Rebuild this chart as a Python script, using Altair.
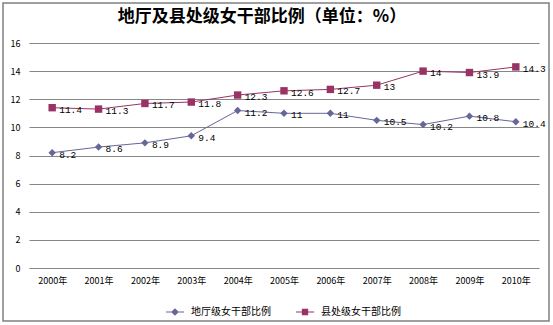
import altair as alt
import pandas as pd

years = ["2000年", "2001年", "2002年", "2003年", "2004年", "2005年",
         "2006年", "2007年", "2008年", "2009年", "2010年"]
series_a_name = "地厅级女干部比例"
series_b_name = "县处级女干部比例"
series_a = [8.2, 8.6, 8.9, 9.4, 11.2, 11, 11, 10.5, 10.2, 10.8, 10.4]
series_b = [11.4, 11.3, 11.7, 11.8, 12.3, 12.6, 12.7, 13, 14, 13.9, 14.3]
title_text = "地厅及县处级女干部比例（单位：%）"

rows = []
for y, a, b in zip(years, series_a, series_b):
    rows.append({"year": y, "series": series_a_name, "value": a, "label": f"{a:g}"})
    rows.append({"year": y, "series": series_b_name, "value": b, "label": f"{b:g}"})
df = pd.DataFrame(rows)

FONT = "Noto Sans CJK SC"
colors = ["#666699", "#993366"]
domain = [series_a_name, series_b_name]

x_enc = alt.X("year:N", sort=years,
              scale=alt.Scale(type="point", padding=0.5),
              axis=alt.Axis(title=None, labelAngle=0, ticks=False, domain=False,
                            labelFontSize=9, labelFont=FONT, labelColor="#000000",
                            labelPadding=8, grid=False))
y_enc = alt.Y("value:Q",
              scale=alt.Scale(domain=[0, 16], nice=False),
              axis=alt.Axis(title=None, values=list(range(0, 17, 2)), ticks=False,
                            domain=False, grid=True, gridColor="#868686",
                            gridWidth=1, labelFontSize=9, labelFont=FONT,
                            labelColor="#000000", labelPadding=9))
color_enc = alt.Color("series:N", sort=domain,
                      scale=alt.Scale(domain=domain, range=colors),
                      legend=None)
shape_enc = alt.Shape("series:N", sort=domain,
                      scale=alt.Scale(domain=domain, range=["diamond", "square"]),
                      legend=None)

# legend-only layer: symbols are a short line with the marker on it
diamond_path = ("M-1.3,-0.08L1.3,-0.08L1.3,0.08L-1.3,0.08Z "
                "M0,-0.55L0.55,0L0,0.55L-0.55,0Z")
square_path = ("M-1.3,-0.08L1.3,-0.08L1.3,0.08L-1.3,0.08Z "
               "M-0.45,-0.45L0.45,-0.45L0.45,0.45L-0.45,0.45Z")
legend_props = dict(title=None, orient="none", legendX=139, legendY=262,
                    direction="horizontal", labelFont=FONT, labelFontSize=10,
                    labelColor="#000000", labelOffset=9, columnPadding=24,
                    symbolSize=196, symbolStrokeWidth=0)
legend_color = alt.Color("series:N", sort=domain,
                         scale=alt.Scale(domain=domain, range=colors),
                         legend=alt.Legend(**legend_props))
legend_shape = alt.Shape("series:N", sort=domain,
                         scale=alt.Scale(domain=domain, range=[diamond_path, square_path]),
                         legend=alt.Legend(**legend_props))

base = alt.Chart(df)
lines = base.mark_line(strokeWidth=1).encode(x=x_enc, y=y_enc, color=color_enc,
                                               detail="series:N")
points = base.mark_point(filled=True, size=55, opacity=1).encode(
    x=x_enc, y=y_enc, color=color_enc, shape=shape_enc)
legend_layer = base.transform_filter("datum.value < 0").mark_point(
    filled=True, opacity=1).encode(x=x_enc, y=y_enc, color=legend_color,
                                   shape=legend_shape)
labels = base.mark_text(align="left", baseline="middle", dx=7, dy=2,
                        font="Liberation Mono", fontSize=9.5, color="#000000").encode(
    x=x_enc, y=y_enc, text="label:N")

title_df = pd.DataFrame({"t": [title_text]})
title = alt.Chart(title_df).mark_text(font=FONT, fontSize=17, fontWeight="bold",
                                      color="#000000", align="center",
                                      baseline="middle").encode(
    x=alt.value(233), y=alt.value(-26), text="t:N")

border = alt.Chart(title_df).mark_rect(fill=None, stroke="#808080",
                                       strokeWidth=1.5).encode(
    x=alt.value(-26), x2=alt.value(520), y=alt.value(-40), y2=alt.value(278))

chart = alt.layer(border, lines, points, legend_layer, labels, title).resolve_scale(
    color="independent", shape="independent"
).properties(
    width=510, height=225,
    padding={"left": 29, "top": 43, "right": 14, "bottom": 57},
    autosize=alt.AutoSizeParams(type="none"),
    background="#ffffff",
).configure_view(stroke=None)

chart.save("out.html", embed_options={"renderer": "svg", "actions": False})
